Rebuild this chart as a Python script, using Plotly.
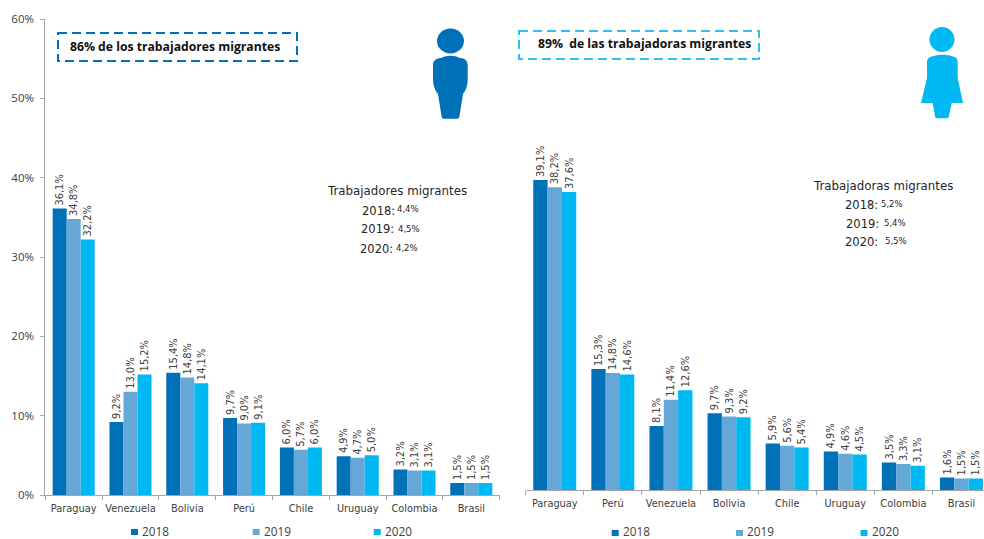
import plotly.graph_objects as go

W, H = 984, 539
YEARS = ["2018", "2019", "2020"]
COLORS = ["#0070B8", "#65A8D8", "#00B9F2"]

MEN_COUNTRIES = ["Paraguay", "Venezuela", "Bolivia", "Perú", "Chile", "Uruguay", "Colombia", "Brasil"]
MEN_2018 = [36.1, 9.2, 15.4, 9.7, 6.0, 4.9, 3.2, 1.5]
MEN_2019 = [34.8, 13.0, 14.8, 9.0, 5.7, 4.7, 3.1, 1.5]
MEN_2020 = [32.2, 15.2, 14.1, 9.1, 6.0, 5.0, 3.1, 1.5]

WOMEN_COUNTRIES = ["Paraguay", "Perú", "Venezuela", "Bolivia", "Chile", "Uruguay", "Colombia", "Brasil"]
WOMEN_2018 = [39.1, 15.3, 8.1, 9.7, 5.9, 4.9, 3.5, 1.6]
WOMEN_2019 = [38.2, 14.8, 11.4, 9.3, 5.6, 4.6, 3.3, 1.5]
WOMEN_2020 = [37.6, 14.6, 12.6, 9.2, 5.4, 4.5, 3.1, 1.5]

MEN_TOTALS = ["4,4%", "4,5%", "4,2%"]
WOMEN_TOTALS = ["5,2%", "5,4%", "5,5%"]


def fx(p):
    return p / W


def fy(p):
    return 1 - p / H


fig = go.Figure()
for xa, ya, cats, series in [
    ("x", "y", MEN_COUNTRIES, [MEN_2018, MEN_2019, MEN_2020]),
    ("x2", "y2", WOMEN_COUNTRIES, [WOMEN_2018, WOMEN_2019, WOMEN_2020]),
]:
    for yr, col, vals in zip(YEARS, COLORS, series):
        fig.add_trace(go.Bar(
            x=cats, y=vals, name=yr, marker_color=col, marker_line_width=0,
            xaxis=xa, yaxis=ya, showlegend=False, offsetgroup=yr,
            texttemplate="%{y:.1f}%", textposition="outside", textangle=-90,
            constraintext="none", cliponaxis=False,
            textfont=dict(family="DejaVu Sans Condensed, Liberation Sans Narrow", size=11, color="#404040"),
        ))

shapes = [
    dict(type="rect", xref="paper", yref="paper", x0=fx(58), x1=fx(297), y0=fy(33), y1=fy(61),
         line=dict(color="#0070B8", width=2, dash="9px,5px")),
    dict(type="rect", xref="paper", yref="paper", x0=fx(519), x1=fx(759), y0=fy(31), y1=fy(59),
         line=dict(color="#2CC1F2", width=2, dash="9px,5px")),
]


def path(cmds):
    out = []
    for c in cmds:
        if len(c) == 3:
            out.append(f"{c[0]}{fx(c[1]):.5f},{fy(c[2]):.5f}")
        elif len(c) == 7:
            out.append(f"C{fx(c[1]):.5f},{fy(c[2]):.5f} {fx(c[3]):.5f},{fy(c[4]):.5f} {fx(c[5]):.5f},{fy(c[6]):.5f}")
        else:
            out.append("Z")
    return " ".join(out)


shapes += [
    dict(type="circle", xref="paper", yref="paper", x0=fx(437), x1=fx(464), y0=fy(28.5), y1=fy(53.5),
         fillcolor="#0070B8", line_width=0),
    dict(type="path", xref="paper", yref="paper", fillcolor="#0070B8", line_width=0, path=path([
        ("M", 441, 58), ("C", 447, 55, 454, 55, 460, 58), ("C", 465, 58.5, 467.7, 60, 467.7, 66),
        ("L", 467.7, 78), ("C", 467.7, 86, 466, 90, 463, 94), ("L", 459.5, 116), ("C", 459, 118.5, 458, 118.7, 457, 118.7),
        ("L", 444, 118.7), ("C", 443, 118.7, 442, 118.5, 441.5, 116), ("L", 438, 94), ("C", 435, 90, 433, 86, 433, 78),
        ("L", 433, 66), ("C", 433, 60, 436, 58.5, 441, 58), ("Z",),
    ])),
    dict(type="circle", xref="paper", yref="paper", x0=fx(929.5), x1=fx(954.5), y0=fy(27), y1=fy(52),
         fillcolor="#00B9F2", line_width=0),
    dict(type="path", xref="paper", yref="paper", fillcolor="#00B9F2", line_width=0, path=path([
        ("M", 932, 56.5), ("C", 938, 54, 947, 54, 953, 56.5), ("C", 956, 57.5, 957.7, 58, 957.7, 63),
        ("L", 957.7, 78), ("L", 963, 103), ("L", 951.7, 103), ("L", 949, 116), ("C", 948.5, 118, 948, 118.3, 946, 118.3),
        ("L", 938, 118.3), ("C", 936, 118.3, 935.5, 118, 935, 116), ("L", 932.7, 103), ("L", 921, 103), ("L", 927, 78),
        ("L", 927, 63), ("C", 927, 58, 929, 57.5, 932, 56.5), ("Z",),
    ])),
]

annotations = []


def text(x, y, s, size=11, family="DejaVu Sans", color="#262626", anchor="left", bold=False):
    annotations.append(dict(
        xref="paper", yref="paper", x=fx(x), y=fy(y), text=f"<b>{s}</b>" if bold else s,
        showarrow=False, xanchor=anchor, yanchor="middle",
        font=dict(family=family, size=size, color=color),
    ))


text(68, 46, "86% de los trabajadores migrantes", size=12.2, family="Open Sans", color="#111111", bold=True)
text(536, 44, "89%  de las trabajadoras migrantes", size=12.2, family="Open Sans", color="#111111", bold=True)
text(325, 191, "Trabajadores migrantes", size=11.8)
text(811, 186, "Trabajadoras migrantes", size=11.8)
for yr, val, x1, y1, x2, y2 in zip(YEARS, MEN_TOTALS, [360, 359, 358], [211, 229, 249], [395, 396, 394], [209, 229, 248]):
    text(x1, y1, yr + ":", size=11.5)
    text(x2, y2, val, size=8.5)
for yr, val, x1, y1, x2, y2 in zip(YEARS, WOMEN_TOTALS, [843, 844, 843], [205, 224, 242], [879, 882, 883], [204, 223, 241]):
    text(x1, y1, yr + ":", size=11.5)
    text(x2, y2, val, size=8.5)

# Legends: small square swatches with the year beside them
for yr, col, sx in zip(YEARS, COLORS, [131, 252.7, 373.7]):
    shapes.append(dict(type="rect", xref="paper", yref="paper", x0=fx(sx), x1=fx(sx + 7), y0=fy(529), y1=fy(535),
                       fillcolor=col, line_width=0))
    text(sx + 9, 530.5, yr, size=11.8, family="Open Sans", color="#404040")
for yr, col, sx in zip(YEARS, COLORS, [611.7, 736, 860.5]):
    shapes.append(dict(type="rect", xref="paper", yref="paper", x0=fx(sx), x1=fx(sx + 7), y0=fy(530), y1=fy(536),
                       fillcolor=col, line_width=0))
    text(sx + 9, 530.5, yr, size=11.8, family="Open Sans", color="#404040")

tick_font = dict(family="DejaVu Sans", size=9.8, color="#404040")
fig.update_layout(
    width=W, height=H, autosize=False, margin=dict(l=0, r=0, t=0, b=0, autoexpand=False),
    paper_bgcolor="white", plot_bgcolor="white", barmode="group", bargap=0.26, bargroupgap=0,
    separators=",.", shapes=shapes, annotations=annotations, showlegend=False,
    xaxis=dict(domain=[fx(45.3), fx(499.7)], anchor="y", type="category", tickson="boundaries",
               ticks="outside", ticklen=4, tickcolor="#A6A6A6", linecolor="#A6A6A6", showline=True,
               showgrid=False, tickfont=tick_font, tickangle=0, ticklabelstandoff=4),
    yaxis=dict(domain=[fy(495), fy(19)], anchor="x", range=[0, 60], dtick=10, ticksuffix="%",
               ticks="outside", ticklen=4, tickcolor="#A6A6A6", linecolor="#A6A6A6", showline=True,
               showgrid=False, zeroline=False, ticklabelstandoff=4,
               tickfont=dict(family="Open Sans", size=11.5, color="#404040")),
    xaxis2=dict(domain=[fx(525.7), 1], anchor="y2", type="category", tickson="boundaries",
                range=[-0.5, 7.388], ticks="outside", ticklen=4, tickcolor="#A6A6A6", linecolor="#A6A6A6",
                showline=True, showgrid=False, tickfont=tick_font, tickangle=0, ticklabelstandoff=4),
    yaxis2=dict(domain=[fy(490.3), fy(14.3)], anchor="x2", range=[0, 60], visible=False),
)

fig.write_html("out.html", config={"displayModeBar": False},
               post_script="document.body.style.margin='0';")
